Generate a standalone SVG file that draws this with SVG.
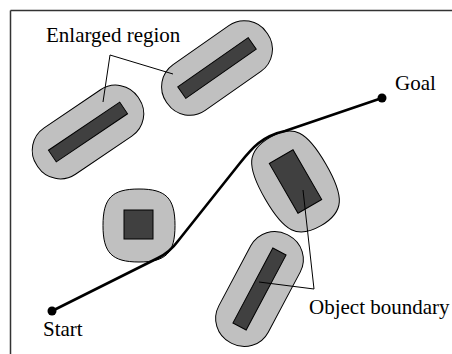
<svg xmlns="http://www.w3.org/2000/svg" width="452" height="354" viewBox="0 0 452 354">
<style>
.reg{fill:#c0c0c0;stroke:#000;stroke-width:1}
.obj{fill:#404040;stroke:#000;stroke-width:1}
.lead{fill:none;stroke:#000;stroke-width:1}
.path{fill:none;stroke:#000;stroke-width:2.6;stroke-linejoin:round}
.lbl{font-family:"Liberation Serif","Times New Roman",serif;font-size:21px;fill:#000}
.frame{stroke:#333;stroke-width:1.5}
</style>
<rect width="452" height="354" fill="#fff"/>
<g id="frame">
<line class="frame" x1="10.5" y1="10.5" x2="452" y2="10.5"/>
<line class="frame" x1="10.5" y1="10.5" x2="10.5" y2="354"/>
</g>
<g id="obstacle-a" transform="translate(88,132) rotate(-34)">
<rect class="reg" x="-61" y="-28" width="122" height="56" rx="27" ry="27"/>
<rect class="obj" x="-43" y="-7" width="86" height="14"/>
</g>
<g id="obstacle-b" transform="translate(217,68) rotate(-35)">
<rect class="reg" x="-61" y="-28" width="122" height="56" rx="27" ry="27"/>
<rect class="obj" x="-43" y="-7" width="86" height="14"/>
</g>
<g id="obstacle-c">
<path class="reg" d="M139,189 C166,189 175,198 175,225.5 C175,253 166,262 139,262 C112,262 103,253 103,225.5 C103,198 112,189 139,189 Z"/>
<rect class="obj" x="124" y="210" width="29" height="29"/>
</g>
<g id="obstacle-d" transform="translate(295.5,181.5) rotate(60)">
<path class="reg" d="M0,-35 C38,-35 51,-27 51,0 C51,27 38,35 0,35 C-38,35 -51,27 -51,0 C-51,-27 -38,-35 0,-35 Z"/>
<rect class="obj" x="-28.7" y="-13.7" width="57.4" height="27.4"/>
</g>
<g id="obstacle-e" transform="translate(259.5,289) rotate(118)">
<rect class="reg" x="-61" y="-28" width="122" height="56" rx="27" ry="27"/>
<rect class="obj" x="-42.5" y="-7.5" width="85" height="15"/>
</g>
<g id="connectors">
<path class="path" d="M52,311 L158,258 Q170,252 178,241 L240,163 C252,148 262,136 285,131 L382,98"/>
<polyline class="lead" points="103,102 110,55 173,74"/>
<polyline class="lead" points="303,190 314,289 259,282"/>
</g>
<g id="start">
<circle cx="52" cy="311" r="4.5" fill="#000"/>
<text class="lbl" x="43" y="336">Start</text>
</g>
<g id="goal">
<circle cx="382" cy="98" r="4.5" fill="#000"/>
<text class="lbl" x="395" y="90">Goal</text>
</g>
<g id="label-enlarged">
<text class="lbl" x="46" y="42">Enlarged region</text>
</g>
<g id="label-object">
<text class="lbl" x="309" y="314">Object boundary</text>
</g>
</svg>
